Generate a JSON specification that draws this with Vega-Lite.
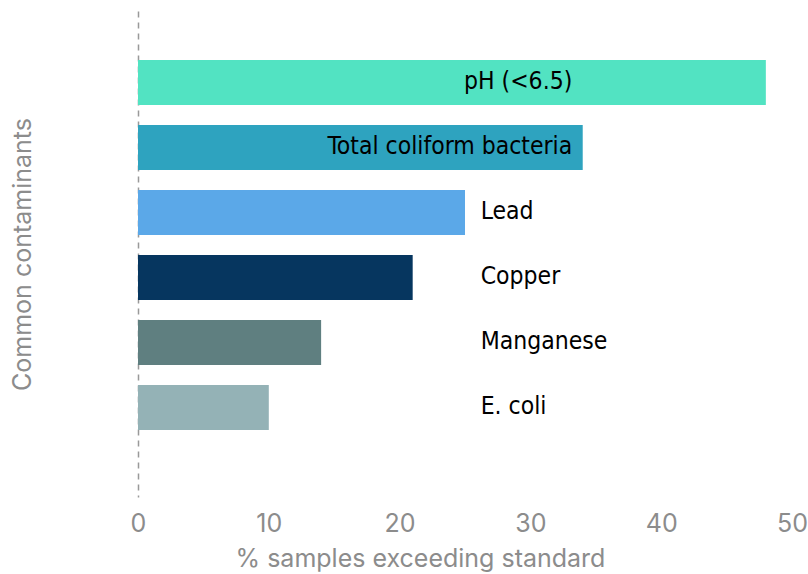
{
  "$schema": "https://vega.github.io/schema/vega-lite/v6.json",
  "width": 654,
  "height": 486,
  "autosize": "none",
  "padding": {"left": 138, "top": 11, "right": 16, "bottom": 77},
  "background": "white",
  "config": {"view": {"stroke": null}},
  "data": {
    "values": [
      {"contaminant": "pH (<6.5)", "pct": 48, "inside": true},
      {"contaminant": "Total coliform bacteria", "pct": 34, "inside": true},
      {"contaminant": "Lead", "pct": 25, "inside": false},
      {"contaminant": "Copper", "pct": 21, "inside": false},
      {"contaminant": "Manganese", "pct": 14, "inside": false},
      {"contaminant": "E. coli", "pct": 10, "inside": false}
    ]
  },
  "encoding": {
    "y": {
      "field": "contaminant",
      "type": "nominal",
      "sort": null,
      "scale": {"paddingInner": 0.3077, "paddingOuter": 0.892, "align": 0.422},
      "axis": {
        "title": "Common contaminants",
        "labels": false,
        "ticks": false,
        "domainColor": "#999999",
        "domainDash": [6, 5],
        "domainWidth": 1.5,
        "titleFont": "Inter",
        "titleFontSize": 25,
        "titleFontWeight": "normal",
        "titleColor": "#8c8c8c",
        "titlePadding": 103
      }
    }
  },
  "layer": [
    {
      "mark": {"type": "bar"},
      "encoding": {
        "x": {
          "field": "pct",
          "type": "quantitative",
          "scale": {"domain": [0, 50], "nice": false},
          "axis": {
            "title": "% samples exceeding standard",
            "values": [0, 10, 20, 30, 40, 50],
            "grid": false,
            "domain": false,
            "ticks": false,
            "labelFlush": false,
            "labelFont": "Inter",
            "labelFontSize": 25,
            "labelColor": "#8c8c8c",
            "labelPadding": 14,
            "titleFont": "Inter",
            "titleFontSize": 25,
            "titleFontWeight": "normal",
            "titleColor": "#8c8c8c",
            "titleX": 282,
            "titleY": 69,
            "titleBaseline": "alphabetic"
          }
        },
        "color": {
          "field": "contaminant",
          "type": "nominal",
          "sort": null,
          "legend": null,
          "scale": {
            "domain": ["pH (<6.5)", "Total coliform bacteria", "Lead", "Copper", "Manganese", "E. coli"],
            "range": ["#52e3c2", "#2ea3bf", "#5ba8e8", "#06365f", "#5f7f80", "#94b2b6"]
          }
        }
      }
    },
    {
      "transform": [{"filter": "datum.inside"}],
      "mark": {"type": "text", "align": "right", "baseline": "middle", "font": "DejaVu Sans Condensed", "fontSize": 24.5, "color": "black"},
      "encoding": {
        "x": {"datum": 33.2, "type": "quantitative"},
        "text": {"field": "contaminant"}
      }
    },
    {
      "transform": [{"filter": "!datum.inside"}],
      "mark": {"type": "text", "align": "left", "baseline": "middle", "font": "DejaVu Sans Condensed", "fontSize": 24.5, "color": "black"},
      "encoding": {
        "x": {"datum": 26.2, "type": "quantitative"},
        "text": {"field": "contaminant"}
      }
    }
  ]
}
